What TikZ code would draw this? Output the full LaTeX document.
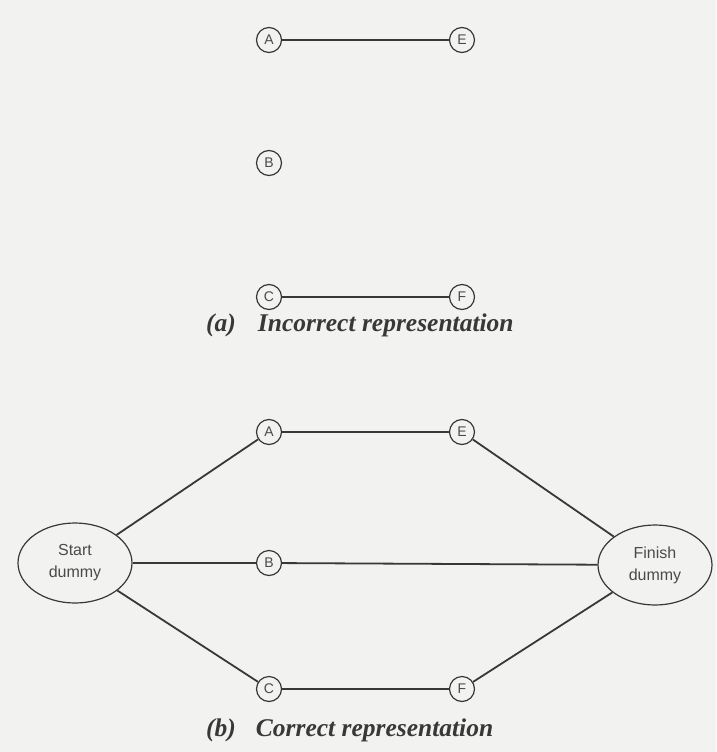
\documentclass[tikz,border=0pt]{standalone}
\usepackage{fontspec}
\setmainfont{Liberation Serif}
\newfontfamily\lblfont{Liberation Sans}
\usetikzlibrary{shapes.geometric}
\definecolor{bgc}{HTML}{F2F2F0}
\definecolor{inkc}{HTML}{383838}
\definecolor{lblc}{HTML}{4A4A4A}
\begin{document}
\begin{tikzpicture}[x=1pt,y=-1pt,
  ev/.style={circle,draw=inkc,line width=1.2pt,minimum size=25pt,inner sep=0pt,font=\lblfont\fontsize{14}{14}\selectfont,text=lblc},
  dum/.style={ellipse,draw=inkc,line width=1.2pt,minimum width=114pt,minimum height=80pt,inner sep=0pt,align=center,font=\lblfont\fontsize{16}{22}\selectfont,text=lblc},
  con/.style={draw=inkc,line width=1.8pt},
  captxt/.style={font=\bfseries\itshape\fontsize{25.5}{27}\selectfont,text=inkc,anchor=base west,inner sep=0pt}]
\fill[bgc] (0,0) rectangle (716,752);
\useasboundingbox (0,0) rectangle (716,752);
% (a)
\node[ev] (a1) at (269,40) {A};
\node[ev] (e1) at (462,40) {E};
\node[ev] (b1) at (269,163) {B};
\node[ev] (c1) at (269,297) {C};
\node[ev] (f1) at (462,297) {F};
\draw[con] (a1) -- (e1);
\draw[con] (c1) -- (f1);
\node[captxt] (capa) at (206,331) {(a)\hspace{22pt}Incorrect representation};
% (b)
\node[ev] (a2) at (269,432) {A};
\node[ev] (e2) at (462,432) {E};
\node[ev] (b2) at (269,563) {B};
\node[ev] (c2) at (269,689) {C};
\node[ev] (f2) at (462,689) {F};
\node[dum] (st) at (75,563) {Start\\dummy};
\node[dum] (fin) at (655,565) {Finish\\dummy};
\draw[con] (st) -- (a2);
\draw[con] (st) -- (b2);
\draw[con] (st) -- (c2);
\draw[con] (a2) -- (e2);
\draw[con] (b2) -- (fin);
\draw[con] (c2) -- (f2);
\draw[con] (e2) -- (fin);
\draw[con] (f2) -- (fin);
\node[captxt] (capb) at (206,736) {(b)\hspace{20pt}Correct representation};
\end{tikzpicture}
\end{document}
